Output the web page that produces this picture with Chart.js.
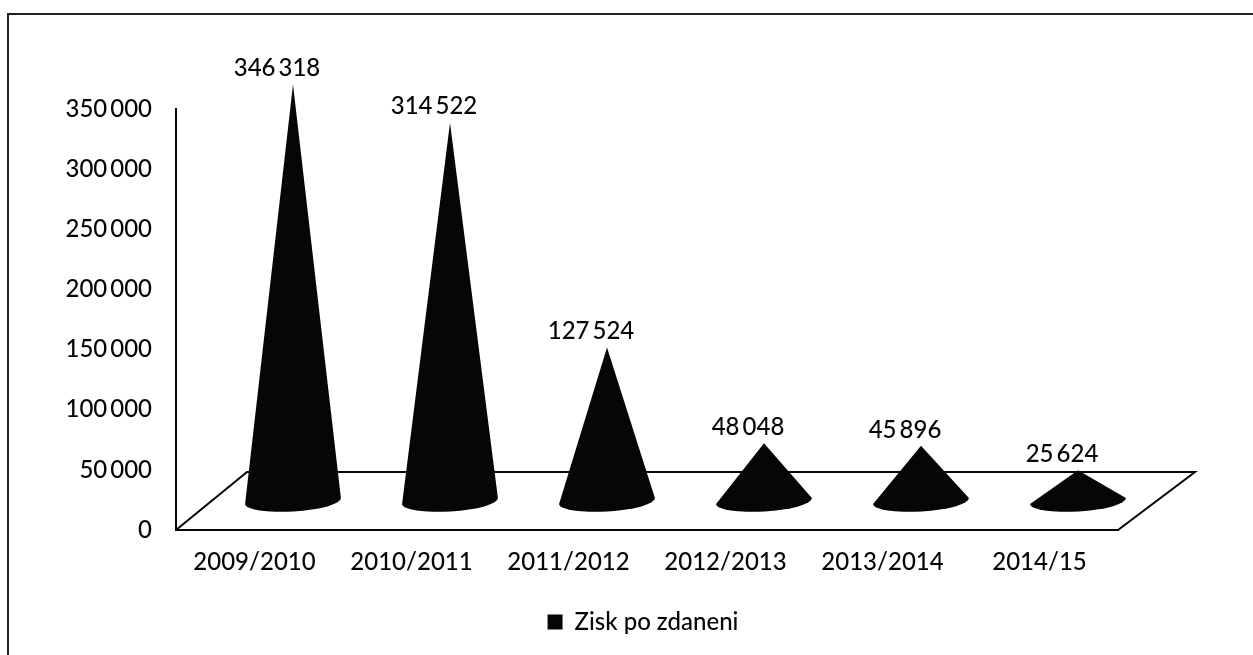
<!DOCTYPE html>
<html><head><meta charset="utf-8">
<style>html,body{margin:0;padding:0;background:#fff;overflow:hidden}canvas{display:block}</style>
<script src="https://cdn.jsdelivr.net/npm/chart.js@4"></script>
</head><body><canvas id="c" width="1253" height="655"></canvas>
<script>
const categories = ["2009/2010","2010/2011","2011/2012","2012/2013","2013/2014","2014/15"];
const seriesName = "Zisk po zdaneni";
const profit = [346318,314522,127524,48048,45896,25624];
const yTicks = [0,50000,100000,150000,200000,250000,300000,350000];

const FONT = "Lato, Carlito, 'Open Sans', sans-serif";
const INK = "#060606";
const fmt = v => String(v).replace(/\B(?=(\d{3})+$)/g, "\u2009");

const conePlugin = {
  id: "cones",
  beforeDraw(chart){
    const c = chart.ctx;
    c.save();
    c.strokeStyle = "#222"; c.lineWidth = 2;
    c.beginPath();
    c.moveTo(8, 655); c.lineTo(8, 14); c.lineTo(1253, 14);
    c.stroke();
    c.restore();
  },
  beforeDatasetsDraw(chart){
    const c = chart.ctx, a = chart.chartArea;
    c.save();
    c.strokeStyle = INK; c.lineWidth = 2;
    c.beginPath();
    c.moveTo(a.left, a.bottom);
    c.lineTo(a.left + 71, a.bottom - 58);
    c.lineTo(a.right + 77, a.bottom - 58);
    c.lineTo(a.right, a.bottom);
    c.stroke();
    c.restore();
  },
  beforeDatasetDraw(chart, args){
    const c = chart.ctx;
    const meta = chart.getDatasetMeta(args.index);
    meta.data.forEach((el, i) => {
      const cx = el.x + 38.5, apex = el.y - 29, cy = el.base - 29;
      const rx = 48, ry = 10.5, rot = -0.06;
      c.save();
      c.fillStyle = INK;
      c.beginPath();
      c.moveTo(cx, apex);
      c.lineTo(cx + rx * Math.cos(rot), cy + rx * Math.sin(rot));
      c.ellipse(cx, cy, rx, ry, rot, 0, Math.PI);
      c.closePath();
      c.fill();
      c.restore();
    });
    return false;
  },
  afterDatasetsDraw(chart){
    const c = chart.ctx;
    const meta = chart.getDatasetMeta(0);
    c.save();
    c.font = "500 24px " + FONT;
    c.fillStyle = INK;
    c.textAlign = "center"; c.textBaseline = "middle";
    meta.data.forEach((el, i) => c.fillText(fmt(profit[i]), el.x + 22.5, el.y - 45));
    c.restore();
  }
};

new Chart(document.getElementById("c"), {
  type: "bar",
  data: { labels: categories, datasets: [{ label: seriesName, data: profit, backgroundColor: INK, borderWidth: 0, yAxisID: "y" }] },
  plugins: [conePlugin],
  options: {
    responsive: false, animation: false,
    layout: { padding: { top: 109, left: 33, right: 0, bottom: 11 } },
    plugins: {
      tooltip: { enabled: false },
      legend: { position: "bottom", labels: { font: { family: FONT, size: 24, weight: "500" }, color: INK, boxWidth: 15, boxHeight: 15, padding: 8 } }
    },
    scales: {
      x: {
        grid: { display: false, drawTicks: false }, border: { color: INK, width: 2 },
        ticks: { font: { family: FONT, size: 24, weight: "500" }, color: INK, padding: 18, maxRotation: 0 },
        afterFit(s){ s.height = 72; }
      },
      y: {
        min: 0, max: 350000,
        grid: { display: false, drawTicks: false }, border: { color: INK, width: 2 },
        afterBuildTicks(s){ s.ticks = yTicks.map(v => ({ value: v })); },
        ticks: { font: { family: FONT, size: 24, weight: "500" }, color: INK, padding: 24, callback: v => fmt(v) },
        afterFit(s){ s.width = 143; }
      },
      spacer: {
        position: "right", min: 0, max: 1,
        grid: { display: false, drawTicks: false }, border: { display: false },
        ticks: { display: false },
        afterFit(s){ s.width = 135; }
      }
    }
  }
});
</script></body></html>
